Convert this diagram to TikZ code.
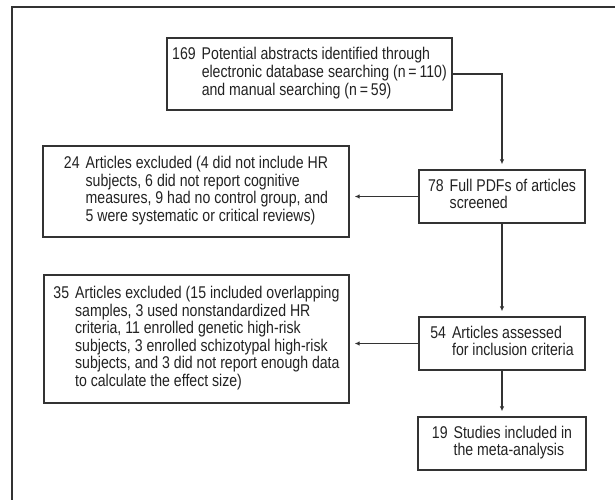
\documentclass[tikz,border=0pt]{standalone}
\usepackage{fontspec}
\setmainfont{Liberation Sans}[FakeStretch=0.83]
\usetikzlibrary{arrows.meta}
\definecolor{inkc}{HTML}{222222}
\definecolor{linec}{HTML}{333333}
\newcommand{\nbox}[2]{\begin{tabular}{@{}l@{\hspace{6pt}}l@{}}#1\end{tabular}}
\begin{document}
\begin{tikzpicture}[x=1pt,y=-1pt,
  flowbox/.style={draw=linec,line width=1.3pt,inner sep=0pt,text=inkc,
    font=\fontsize{17}{17.6}\selectfont,anchor=center},
  flowarrow/.style={draw=linec,line width=1.1pt,-{Latex[length=5pt,width=4.5pt]},shorten >=5pt}]
\useasboundingbox (0,0) rectangle (615,500);
\draw[linec,line width=1.2pt] (12,502) -- (12,7) -- (617,7);
\node[flowbox,minimum width=285pt,minimum height=72pt] (b1) at (309.5,74)
  {\nbox{169 & Potential abstracts identified through\\ & electronic database searching (n\,=\,110)\\ & and manual searching (n\,=\,59)}{}};
\node[flowbox,minimum width=306pt,minimum height=91pt] (b24) at (196,191.5)
  {\nbox{24 & Articles excluded (4 did not include HR\\ & subjects, 6 did not report cognitive\\ & measures, 9 had no control group, and\\ & 5 were systematic or critical reviews)}{}};
\node[flowbox,minimum width=166pt,minimum height=53pt] (b78) at (502,196.5)
  {\nbox{78 & Full PDFs of articles\\ & screened}{}};
\node[flowbox,minimum width=305pt,minimum height=128pt] (b35) at (196.5,339)
  {\nbox{35 & Articles excluded (15 included overlapping\\ & samples, 3 used nonstandardized HR\\ & criteria, 11 enrolled genetic high-risk\\ & subjects, 3 enrolled schizotypal high-risk\\ & subjects, and 3 did not report enough data\\ & to calculate the effect size)}{}};
\node[flowbox,minimum width=166pt,minimum height=53pt] (b54) at (502,343.5)
  {\nbox{54 & Articles assessed\\ & for inclusion criteria}{}};
\node[flowbox,minimum width=168pt,minimum height=53pt] (b19) at (502,443.5)
  {\nbox{19 & Studies included in\\ & the meta-analysis}{}};
\draw[flowarrow] (b1.east) -| (b78.north);
\draw[flowarrow] (b78.west) -- (b78.west -| b24.east);
\draw[flowarrow] (b78.south) -- (b54.north);
\draw[flowarrow] (b54.west) -- (b54.west -| b35.east);
\draw[flowarrow] (b54.south) -- (b19.north);
\end{tikzpicture}
\end{document}
